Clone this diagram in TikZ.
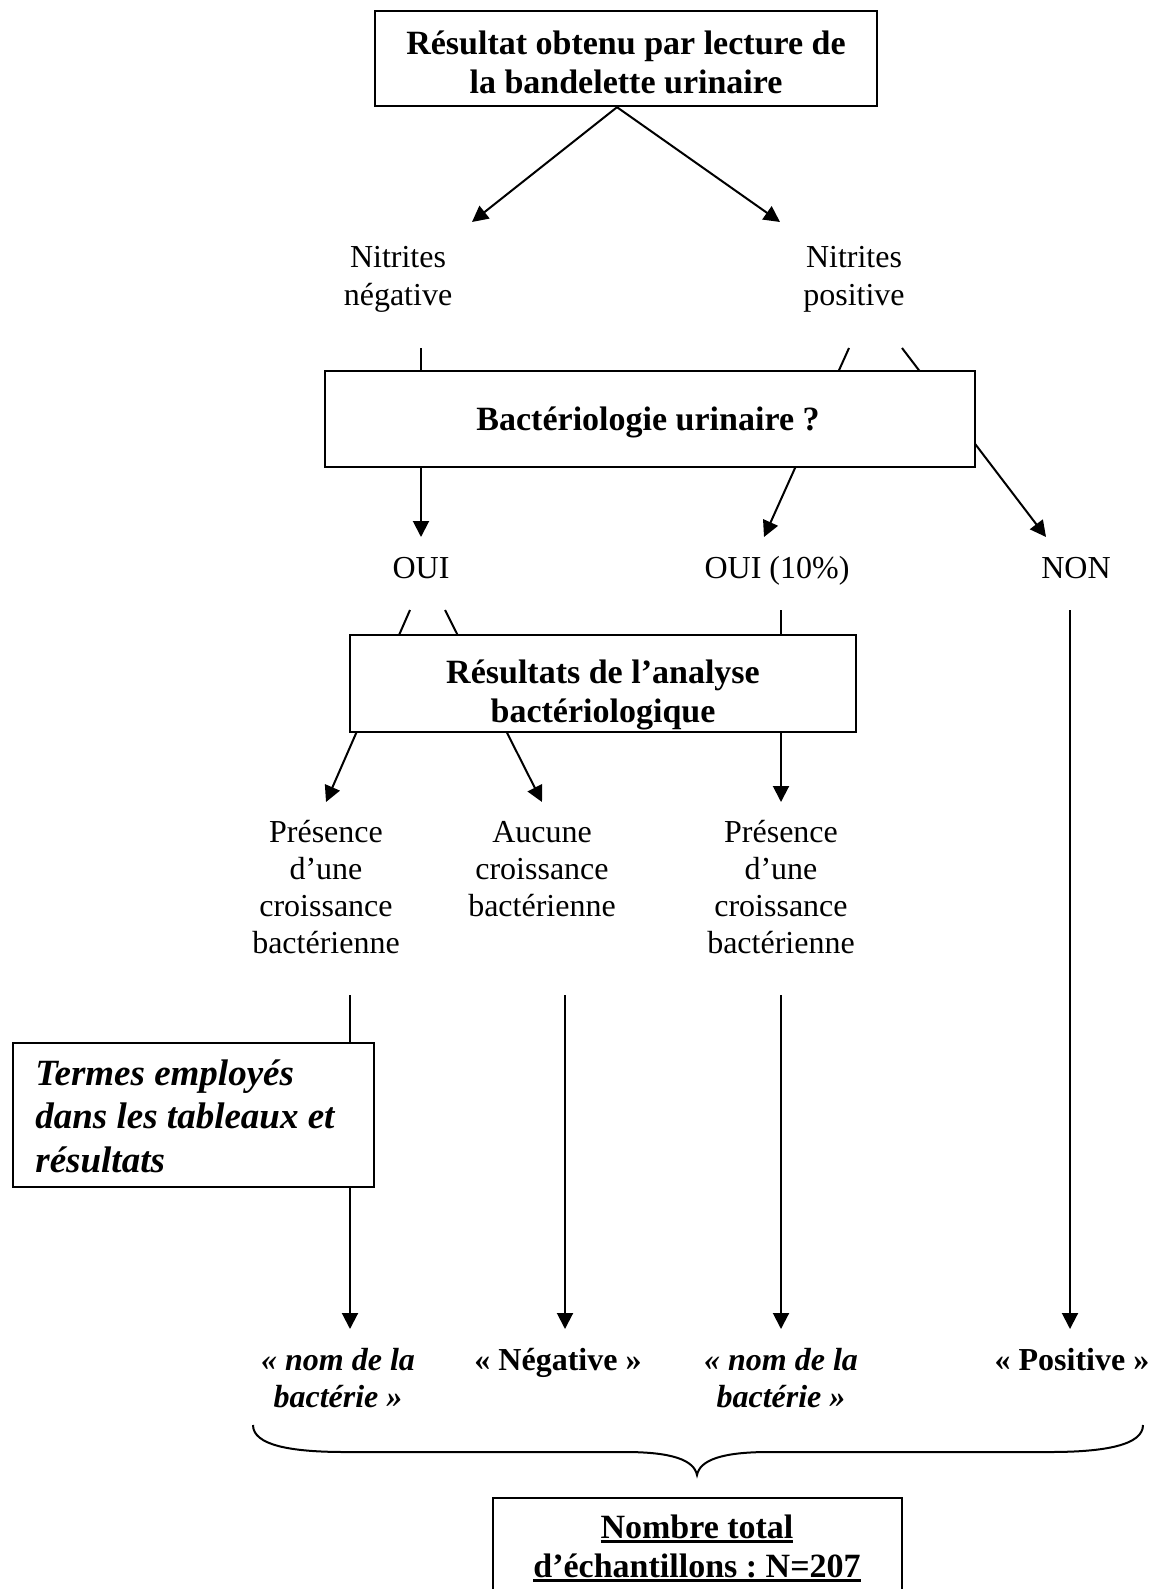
\documentclass[tikz,border=0pt]{standalone}
\usepackage{fontspec}
\setmainfont{Liberation Serif}
\usetikzlibrary{arrows.meta}
\pgfdeclarelayer{bg}
\pgfsetlayers{bg,main}
\frenchspacing
\newsavebox\ulb
\newcommand\ulbox[1]{\sbox\ulb{#1}\rlap{\rule[-2.3pt]{\wd\ulb}{1.3pt}}\usebox\ulb}
\begin{document}
\begin{tikzpicture}[x=0.5pt, y=-0.5pt,
  arr/.style={line width=1pt, -{Triangle[length=8pt,width=8pt]}},
  box/.style={draw, line width=1.2pt, fill=white, inner sep=0pt},
  txt/.style={font=\fontsize{16}{18.5}\selectfont, align=center, inner sep=0pt, anchor=base},
  btxt/.style={font=\fontsize{17}{19.5}\selectfont\bfseries, align=center, inner sep=0pt, anchor=base},
  ltxt/.style={font=\fontsize{16}{18.5}\selectfont\bfseries, align=center, inner sep=0pt, anchor=base},
  ttxt/.style={font=\fontsize{18.5}{21.75}\selectfont\bfseries\itshape, align=left, inner sep=0pt, anchor=base west}]
\useasboundingbox (0,0) rectangle (1154,1589);

% boxes
\node[box, minimum width=251pt, minimum height=47.5pt] (top) at (626,58.5) {};
\node[box, minimum width=325pt, minimum height=48pt] (bact) at (650,419) {};
\node[box, minimum width=253pt, minimum height=48.5pt] (res) at (603,683.5) {};
\node[box, minimum width=180.5pt, minimum height=72pt] (termes) at (193.5,1115) {};

% texts (anchor = baseline of the last line)
\node[btxt] (toptxt) at (626,94) {Résultat obtenu par lecture de\\la bandelette urinaire};
\node[txt] (nitneg) at (398,305) {Nitrites\\négative};
\node[txt] (nitpos) at (854,305) {Nitrites\\positive};
\node[btxt] (bacttxt) at (648,430) {Bactériologie urinaire ?};
\node[txt] (oui) at (421,578) {OUI};
\node[txt] (oui10) at (777,578) {OUI (10\%)};
\node[txt] (non) at (1076,578) {NON};
\begin{scope}
\clip (352,637) rectangle (854,729);
\node[btxt] (restxt) at (603,722) {Résultats de l’analyse\\bactériologique};
\end{scope}
\node[txt] (pres1) at (326,953) {Présence\\d’une\\croissance\\bactérienne};
\node[txt] (aucune) at (542,916) {Aucune\\croissance\\bactérienne};
\node[txt] (pres2) at (781,953) {Présence\\d’une\\croissance\\bactérienne};
\node[ttxt] (termestxt) at (35,1172) {Termes employés\\dans les tableaux et\\résultats};
\node[ltxt] (nom1) at (338,1407) {\itshape «~nom de la\\\itshape bactérie~»};
\node[ltxt] (neg) at (558,1370) {«~Négative~»};
\node[ltxt] (nom2) at (781,1407) {\itshape «~nom de la\\\itshape bactérie~»};
\node[ltxt] (pos) at (1072,1370) {«~Positive~»};
\node[btxt] (total) at (697,1577) {\ulbox{Nombre total}\\\ulbox{d’échantillons : N=207}};

% connector ends
\coordinate (nn-in) at (472,222);
\coordinate (np-in) at (780,222);
\coordinate (nn-out) at (421,348);
\coordinate (np-out1) at (849,348);
\coordinate (np-out2) at (902,348);
\coordinate (oui-in) at (421,537);
\coordinate (oui10-in) at (764,537);
\coordinate (non-in) at (1046,537);
\coordinate (oui-out1) at (410,610);
\coordinate (oui-out2) at (445,610);
\coordinate (oui10-out) at (781,610);
\coordinate (non-out) at (1070,610);
\coordinate (p1-in) at (326,802);
\coordinate (a-in) at (542,802);
\coordinate (p2-in) at (781,802);
\coordinate (p1-out) at (350,995);
\coordinate (a-out) at (565,995);
\coordinate (p2-out) at (781,995);
\coordinate (nom1-in) at (350,1329);
\coordinate (neg-in) at (565,1329);
\coordinate (nom2-in) at (781,1329);
\coordinate (pos-in) at (1070,1329);

\begin{pgfonlayer}{bg}
\draw[arr] ([xshift=-4.5pt]top.south) -- (nn-in);
\draw[arr] ([xshift=-4.5pt]top.south) -- (np-in);
\draw[arr] (nn-out) -- (oui-in);
\draw[arr] (np-out1) -- (oui10-in);
\draw[arr] (np-out2) -- (non-in);
\draw[arr] (oui-out1) -- (p1-in);
\draw[arr] (oui-out2) -- (a-in);
\draw[arr] (oui10-out) -- (p2-in);
\draw[arr] (p1-out) -- (nom1-in);
\draw[arr] (a-out) -- (neg-in);
\draw[arr] (p2-out) -- (nom2-in);
\draw[arr] (non-out) -- (pos-in);
\end{pgfonlayer}

% brace
\draw[line width=1pt] (253,1425) .. controls (253,1445) and (290,1452) .. (345,1452)
  -- (625,1452) .. controls (672,1452) and (694,1460) .. (697,1475)
  .. controls (700,1460) and (722,1452) .. (769,1452)
  -- (1050,1452) .. controls (1105,1452) and (1143,1445) .. (1143,1425);

% bottom box (cut by the page)
\draw[line width=1.2pt] (493,1600) -- (493,1498) -- (902,1498) -- (902,1600);
\end{tikzpicture}
\end{document}
